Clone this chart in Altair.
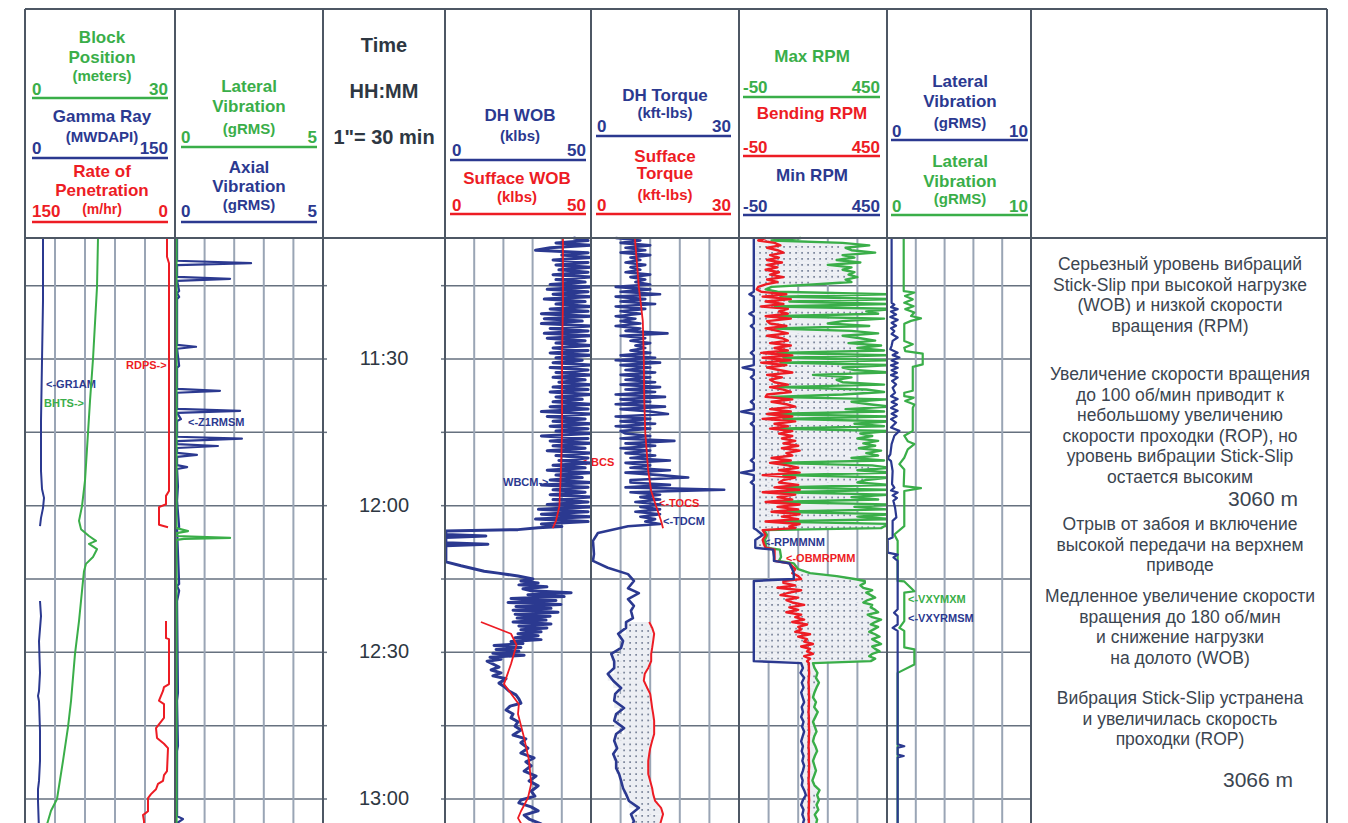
import altair as alt
import pandas as pd

# ---------------- colours / fonts ----------------
GREEN = "#3aae49"
BLUE = "#2b3990"
RED = "#ed1c24"
INK = "#2e3742"
NOTE_INK = "#3b4550"
BORDER = "#4d5764"
VGRID = "#9aa5b5"
HGRID = "#66717f"
FILL = "#eceef3"
DOT = "#6f7a91"
SANS = "'Liberation Sans', Arial, sans-serif"

# ---------------- DATA (time = minutes after 11:00) ----------------
TIME_TICKS = [30, 60, 90, 120]
TIME_LABELS = ["11:30", "12:00", "12:30", "13:00"]
GRID_TIMES = [15, 30, 45, 60, 75, 90, 105, 120]

# Track 1 : gamma ray (0-150), block position (0-30), ROP (150-0)
GR_T1 = [5.25, 18.1, 30.4, 42.7, 52.9, 56.6, 58.4, 60.5, 62.5, 64.2]
GR_V1 = [18, 18, 17, 16, 16, 17, 19, 18, 16, 15]
GR_T2 = [79.5, 82.6, 87.7, 94.2, 97.9, 98.9, 100.0, 106.1, 112.2, 116.3, 118.0, 120.4, 126.5]
GR_V2 = [15, 16, 14, 15, 14, 13, 14, 15, 15, 14, 13, 13, 14]

BP_T = [5.25, 15.3, 30.0, 38.6, 45.1, 54.9, 60.1, 63.1, 64.8, 66.2, 67.2, 67.8, 68.9, 70.5,
        71.9, 73.4, 75.4, 83.6, 90.3, 100.0, 105.3, 112.2, 120.0, 122.4, 124.5, 126.5]
BP_V = [14.6, 14.4, 13.6, 13.0, 12.6, 12.0, 11.4, 10.8, 11.2, 12.8, 14.2, 12.8, 14.4, 13.6,
        12.2, 11.8, 11.6, 10.8, 10.0, 9.2, 8.6, 7.6, 6.4, 5.2, 4.6, 4.0]

ROP_T1 = [5.25, 9.1, 10.4, 57.0, 58.0, 59.7, 60.3, 63.9, 64.4]
ROP_V1 = [8, 8, 6, 6, 9, 9, 16, 16, 7]
ROP_T2 = [83.6, 87.1, 87.3, 96.5, 97.1, 97.9, 99.9, 100.6, 103.4, 105.5, 107.5, 108.7, 109.6,
          114.3, 115.1, 116.3, 116.9, 118.0, 119.0, 119.8, 122.5, 123.3, 124.5, 126.5]
ROP_V2 = [9, 9, 6, 6, 11, 12, 16, 11, 11, 19, 18, 11, 7, 8, 11, 12, 17, 19, 24, 27, 27, 32, 31, 31]

# Track 2 : axial vibration (blue), lateral vibration (green), gRMS 0-5
AX_T = [5.25, 9.9, 10.4, 10.8, 13.2, 13.6, 14.0, 16.1, 16.5, 17.3, 17.7, 27.1, 27.5, 27.9, 31.4,
        31.8, 36.1, 36.5, 36.9, 40.2, 40.6, 41.0, 42.3, 42.7, 45.9, 46.3, 46.8, 47.4, 47.8, 48.2,
        49.2, 49.6, 50.0, 51.7, 52.1, 52.5, 56.0, 59.0, 64.4, 64.8, 76.0, 76.4, 77.4, 79.5, 98.3,
        99.9, 109.1, 110.2, 123.5, 124.1, 124.9, 126.5]
AX_V = [0.07, 0.07, 2.57, 0.07, 0.07, 1.86, 0.07, 0.14, 0.07, 0.14, 0.07, 0.07, 0.71, 0.07, 0.14,
        0.07, 0.07, 1.52, 0.07, 0.07, 2.2, 0.07, 0.2, 0.07, 0.07, 2.26, 0.07, 0.07, 1.45, 0.07,
        0.07, 0.74, 0.07, 0.07, 0.41, 0.07, 0.1, 0.07, 0.14, 0.07, 0.14, 0.07, 0.14, 0.07, 0.1,
        0.07, 0.1, 0.07, 0.07, 0.27, 0.07, 0.07]
LV2_T = [5.25, 64.6, 65.2, 65.6, 66.2, 66.6, 66.8, 67.0, 126.5]
LV2_V = [0.05, 0.05, 0.44, 0.05, 0.05, 1.86, 0.3, 0.05, 0.05]

# Track 3 : DH WOB (blue) and surface WOB (red), klbs 0-50
UP_T0, UP_STEP = 5.25, 0.5
WOB_UP = [
    44, 49, 38, 50, 36, 31, 49, 40, 50, 37,
    49, 38, 50, 39, 49, 37, 50, 38, 48, 36,
    50, 35, 49, 37, 50, 34, 48, 38, 50, 36,
    49, 33, 50, 34, 47, 33, 50, 36, 49, 34,
    50, 35, 48, 38, 50, 37, 49, 36, 50, 38,
    47, 37, 50, 36, 49, 38, 50, 37, 48, 39,
    50, 37, 49, 36, 50, 38, 47, 37, 50, 36,
    49, 33, 50, 35, 48, 37, 50, 36, 49, 38,
    50, 33, 49, 36, 50, 37, 48, 35, 50, 38,
    49, 39, 50, 37, 48, 35, 50, 38, 47, 36,
    50, 33, 49, 37, 48, 36, 50, 37, 49, 35,
    50, 32, 49, 33, 50, 31, 49, 33, 40]
WOB_TR_T = [64.5, 64.9, 65.2, 65.9, 66.2, 66.5, 67.6, 67.9, 68.2, 71.5, 72.3, 73.4, 73.8, 74.4]
WOB_TR_V = [31.9, 25.0, 0.3, 0.3, 14.0, 0.3, 0.3, 14.7, 0.3, 0.3, 5.5, 13.4, 18.2, 25.0]
LO1_T0, LO1_STEP = 75.0, 0.4
WOB_LO1 = [30.1, 26.0, 31.9, 25.3, 34.9, 26.7, 29.5, 43.2, 28.4, 40.8,
           22.6, 38.0, 21.6, 39.7, 24.3, 36.3, 23.3, 38.7, 24.0, 36.0,
           24.7, 34.6, 23.3, 36.3, 25.3, 34.9, 26.0, 32.9, 25.0, 31.9,
           24.0, 32.9, 22.6, 26.7, 16.8, 26.0, 17.5, 25.3, 16.4, 27.1,
           15.4, 19.2, 14.4]
WOB_LO2_T = [93.0, 93.6, 94.2, 94.8, 95.4, 96.3, 97.1, 97.9, 98.7, 99.5, 100.4, 101.0, 101.8,
             102.6, 103.4, 104.2, 105.1, 105.9, 106.9, 107.7, 108.5, 109.6, 110.6, 111.6, 112.4,
             113.2, 114.3, 115.3, 116.3, 117.3, 118.4, 119.4, 120.2, 120.8, 121.6, 122.4, 123.3,
             124.1, 125.1, 126.5]
WOB_LO2_V = [18.5, 15.8, 19.2, 16.4, 20.9, 18.5, 20.5, 21.9, 24.3, 25.3, 26.0, 22.3, 20.9,
             23.3, 22.6, 25.0, 24.0, 26.0, 23.3, 27.7, 26.0, 28.4, 26.0, 30.5, 27.7,
             29.5, 27.1, 31.2, 28.8, 31.9, 29.5, 30.8, 26.0, 25.3, 29.5, 31.9, 27.1,
             28.8, 32.9, 30.0]
SW_T1 = [5.25, 18.1, 30.0, 44.7, 52.9, 57.0, 60.1, 63.1, 64.6]
SW_V1 = [40.4, 40.4, 40.1, 40.1, 39.7, 39.4, 39.2, 38.0, 36.9]
SW_T2 = [83.8, 86.2, 88.5, 92.4, 96.5, 100.6, 102.6, 107.5, 112.2, 116.9, 119.8, 122.5, 123.9, 126.5]
SW_V2 = [12.3, 22.6, 24.5, 22.6, 20.2, 25.3, 25.0, 27.1, 28.8, 29.5, 28.4, 26.0, 25.0, 27.5]

# Track 4 : DH torque (blue), surface torque (red), kft-lbs 0-30
TQ_UP = [
    5, 10, 6, 12, 7, 11, 6, 12, 8, 10,
    7, 11, 8, 10, 7, 12, 8, 11, 9, 12,
    5, 12, 6, 14, 5, 11, 6, 13, 5, 11,
    6, 10, 5, 9, 6, 10, 5, 10, 7, 15.5,
    6, 11, 8, 12, 9, 11, 8, 12, 6, 13,
    5, 14, 6, 12, 7, 13, 6, 12, 7, 13,
    6, 14, 7, 13, 5, 15, 6, 12, 5, 15,
    6, 12, 15.6, 5, 12, 6, 13, 5, 12, 6,
    7, 12, 6, 16.9, 7, 13, 6, 12, 7, 13,
    8, 16, 7, 12, 8, 16, 7, 14, 19.7, 8,
    8, 16, 7, 27, 8, 14, 10, 14, 9, 14,
    10, 14, 9, 14, 10, 13, 11, 14]
TQ_TR_T = [64.2, 65.6, 67.2, 69.9, 71.3, 72.7, 74.0, 75.4, 76.9, 77.9, 79.1, 80.5, 81.5, 83.0]
TQ_TR_V = [7.5, 1.4, 0.4, 0.6, 0.4, 3.4, 7.5, 8.7, 7.5, 9.7, 7.5, 8.7, 8.1, 8.5]
TQ_LO_T = [83.8, 85.0, 86.2, 87.7, 89.1, 90.3, 91.8, 93.2, 94.4, 95.8, 97.3, 98.5, 99.9, 101.4,
           102.6, 104.0, 105.5, 106.7, 108.1, 109.6, 110.8, 112.2, 113.7, 114.9, 116.3, 117.8,
           119.0, 120.4, 121.8, 123.1, 124.5, 125.9]
TQ_LO_DH = [7.1, 7.1, 5.5, 6.5, 6.1, 4.1, 4.7, 4.7, 3.4, 4.5, 6.1, 4.9, 4.7, 6.7, 5.1, 4.7,
            6.7, 5.1, 4.7, 5.3, 4.5, 5.1, 5.1, 5.7, 6.1, 6.5, 7.1, 7.7, 9.7, 8.1, 8.7, 8.1]
TQ_LO_SURF = [11.8, 12.4, 12.8, 12.6, 12.4, 12.2, 12.2, 11.6, 10.9, 10.7, 11.4, 12.0, 12.2, 12.4,
              12.6, 12.8, 12.8, 12.8, 12.4, 12.0, 11.8, 11.6, 11.6, 11.6, 12.0, 12.4, 12.6, 13.0,
              14.2, 14.6, 14.2, 13.8]
ST_T1 = [5.25, 15.3, 22.2, 30.0, 38.6, 45.1, 52.9, 57.0, 60.1, 63.1, 64.6]
ST_V1 = [8.9, 9.7, 10.5, 10.7, 10.8, 11.0, 11.6, 12.2, 13.2, 14.2, 14.6]

# Track 5 : max / bending / min RPM (-50 .. 450)
RPM_UP_MAX = [
    160, 60, 300, 390, 310, 330, 410, 300, 340, 280,
    360, 250, 330, 300, 340, 320, 350, 310, 330, 200,
    60, 40, 80, 460, 90, 470, 120, 460, 70, 470,
    380, 420, 60, 440, 300, 250, 390, 70, 330, 420,
    300, 360, 410, 320, 430, 350, 440, 80, 460, 100,
    470, 90, 460, 300, 340, 460, 200, 330, 280, 300,
    440, 80, 380, 440, 300, 60, 450, 330, 390, 460,
    310, 440, 50, 450, 100, 460, 340, 440, 70, 460,
    360, 400, 350, 420, 370, 410, 355, 430, 380, 420,
    330, 440, 60, 400, 460, 350, 470, 100, 460, 380,
    350, 460, 80, 470, 90, 460, 330, 420, 60, 470,
    340, 450, 70, 460, 350, 470, 60, 470, 440]
RPM_UP_BEND = [
    40, 15, 70, 90, 45, 80, 100, 55, 85, 45,
    95, 45, 80, 40, 85, 55, 100, 45, 80, 40,
    15, 10, 25, 110, 30, 125, 40, 100, 25, 115,
    85, 115, 40, 125, 45, 55, 110, 40, 80, 115,
    45, 95, 115, 55, 125, 70, 115, 25, 130, 30,
    125, 25, 110, 45, 85, 130, 45, 95, 55, 70,
    115, 55, 100, 125, 45, 40, 130, 60, 110, 140,
    55, 125, 45, 130, 30, 140, 70, 115, 55, 130,
    85, 130, 95, 140, 100, 150, 95, 155, 110, 130,
    60, 125, 55, 115, 150, 85, 155, 30, 140, 100,
    85, 150, 70, 155, 30, 140, 80, 130, 40, 155,
    80, 150, 60, 155, 95, 150, 40, 155, 120]
RPM_UP_MIN = [
    0, 0, 0, 0, 0, 0, 0, 0, 0, 0,
    0, 0, 0, 0, 0, 0, 0, 0, 0, 0,
    0, 0, 0, -15, 0, 0, 0, 0, 0, 0,
    0, -15, 0, 0, 0, 0, -10, 0, 0, 0,
    0, 0, 0, 0, 0, 0, 0, -10, 0, 0,
    0, 0, 0, -38, 0, 0, 0, -10, 0, 0,
    0, 0, 0, 0, 0, 0, 0, -10, 0, 0,
    0, -43, 0, 0, 0, 0, -10, 0, 0, 0,
    0, 0, 0, 0, 0, 0, 0, 0, 0, 0,
    0, -10, 0, 0, 0, 0, -43, 0, 0, 0,
    -10, 0, 0, 0, 0, 0, 0, 0, 0, 0,
    0, 0, 0, 0, 0, 0, 0, 0, 0]
RPM_MID_T = [64.6, 65.0, 66.0, 67.0, 68.0, 68.6, 69.0, 70.5, 71.3, 71.8, 73.0, 73.8, 74.4, 75.0, 75.4]
RPM_MID_MAX = [430, 35, 45, 38, 40, 42, 88, 92, 85, 135, 150, 190, 280, 340, 375]
RPM_MID_BEND = [140, 30, 40, 30, 35, 40, 70, 70, 70, 120, 140, 130, 150, 160, 100]
RPM_MID_MIN = [0, 10, 30, 5, 5, 5, 65, 68, 68, 120, 130, 135, 135, 135, 0]
SS_T0, SS_STEP = 75.8, 0.5
RPM_SS_MAX = [375, 360, 370, 400, 380, 395, 410, 385, 370, 400, 395, 410, 420, 385, 400, 430, 410,
              395, 420, 405, 390, 410, 425, 400, 415, 430, 400, 410, 425, 400, 390, 410, 395]
RPM_SS_BEND = [100, 140, 80, 160, 120, 90, 150, 110, 130, 170, 120, 150, 110, 160, 140, 170, 130,
               180, 150, 160, 140, 190, 150, 180, 170, 200, 160, 190, 180, 200, 170, 190, 180]
RPM_SS_MIN = [0, 0, 0, 0, 0, 0, 0, 0, 0, 0, 0, 0, 0, 0, 0, 0, 0,
              0, 0, 0, 0, 0, 0, 0, 0, 0, 0, 0, 0, 0, 0, 0, 0]
CV_T0, CV_STEP = 92.2, 1.0
RPM_CV_MAX = [200, 205, 215, 210, 220, 212, 205, 200, 210, 204, 216, 208, 200, 206, 212, 204, 200, 208,
              214, 206, 200, 205, 210, 204, 198, 205, 222, 214, 220, 212, 218, 206, 214, 210, 205]
RPM_CV_BEND = [186, 186, 187, 186, 185, 186, 186, 187, 186, 186, 185, 186, 186, 186, 187, 186, 186,
               185, 186, 186, 186, 187, 186, 186, 185, 186, 186, 186, 187, 186, 186, 185, 186, 186, 186]
RPM_CV_MIN = [160, 166, 158, 170, 162, 168, 160, 165, 170, 162, 166, 160, 168, 163, 170, 165, 160, 166,
              162, 168, 164, 170, 166, 160, 165, 162, 170, 176, 166, 160, 168, 164, 170, 165, 168]

# Track 6 : lateral vibration RMS (blue) and max (green), gRMS 0-10
LB_T = [5.25, 18.5, 18.9, 19.4, 19.8, 20.3, 20.9, 21.4, 22.0, 22.6, 23.2, 23.7, 24.3, 24.9, 25.6,
        26.3, 27.3, 28.0, 28.7, 29.2, 29.7, 30.3, 30.8, 31.3, 31.8, 32.3, 32.8, 33.3, 33.8, 34.5,
        35.2, 35.9, 36.9, 37.6, 38.2, 38.8, 39.3, 40.0, 40.6, 41.2, 41.7, 42.3, 43.0, 44.0, 44.7,
        45.7, 47.4, 49.5, 50.3, 50.9, 52.9, 55.6, 56.3, 56.9, 57.3, 57.9, 58.4, 59.0, 60.4, 62.4,
        63.1, 66.5, 66.9, 69.6, 70.0, 70.6, 71.3, 72.0, 81.2, 81.9, 82.6, 84.3, 85.0, 85.6, 108.8,
        109.2, 109.5, 110.9, 111.2, 111.5, 126.5]
LB_V = [0.32, 0.32, 0.51, 0.28, 0.74, 0.28, 0.63, 0.23, 0.74, 0.32, 0.63, 0.28, 0.51, 0.32, 0.74,
        0.39, 0.32, 0.23, 0.74, 0.39, 0.86, 0.32, 0.74, 0.28, 0.74, 0.32, 0.69, 0.28, 0.74, 0.35,
        0.63, 0.39, 0.56, 0.28, 0.74, 0.32, 0.69, 0.28, 0.74, 0.32, 0.67, 0.28, 0.63, 0.28, 0.86,
        0.51, 0.32, 0.23, 0.05, 0.28, 0.39, 0.35, 0.51, 0.28, 0.74, 0.39, 0.69, 0.44, 0.56, 0.65,
        0.39, 0.39, 0.05, 0.05, 0.74, 0.45, 0.74, 0.74, 0.74, 0.49, 0.74, 0.74, 0.39, 0.74, 0.74,
        1.2, 0.74, 0.74, 1.16, 0.74, 0.74]
LG_T = [5.25, 16.1, 16.4, 17.1, 17.8, 18.5, 19.2, 19.8, 20.5, 21.2, 21.7, 22.2, 22.8, 26.3, 27.0,
        27.7, 28.4, 28.9, 31.1, 31.6, 36.5, 36.9, 37.6, 37.9, 38.6, 39.3, 40.0, 44.7, 45.7, 46.8,
        47.4, 48.5, 50.2, 51.5, 52.6, 56.0, 56.4, 57.0, 63.1, 64.2, 65.9, 67.2, 75.4, 75.5, 77.5,
        77.8, 83.6, 85.0, 85.6, 89.0, 89.4, 92.5, 94.2, 126.5]
LG_V = [1.16, 1.16, 1.9, 1.25, 1.79, 1.2, 1.85, 1.27, 1.9, 1.67, 2.36, 1.67, 1.2, 1.2, 1.79,
        1.2, 1.27, 2.48, 2.48, 1.79, 1.79, 1.2, 1.2, 1.85, 1.27, 1.9, 1.79, 1.79, 1.2, 1.44,
        1.9, 1.44, 1.2, 0.86, 1.2, 1.16, 2.36, 1.2, 1.2, 1.2, 0.51, 0.74, 0.74, 1.2, 1.9,
        1.2, 1.2, 0.86, 1.2, 1.2, 1.9, 1.9, 0.74, 0.74]

# curve tags (text, time, colour)
TAGS = {
    0: [("<-GR1AM", 35.3, BLUE), ("BHTS->", 39.2, GREEN), ("RDPS->", 31.4, RED)],
    1: [("<-Z1RMSM", 43.1, BLUE)],
    3: [("WBCM->", 55.4, BLUE), ("<-BCS", 51.3, RED)],
    4: [("<-TOCS", 59.6, RED), ("<-TDCM", 63.3, BLUE)],
    5: [("<-RPMMNM", 67.6, BLUE), ("<-OBMRPMM", 70.9, RED)],
    6: [("<-VXYMXM", 79.3, GREEN), ("<-VXYRMSM", 83.2, BLUE)],
}

NOTES = [
    ["Серьезный уровень вибраций", "Stick-Slip при высокой нагрузке", "(WOB) и низкой скорости",
     "вращения (RPM)"],
    ["Увеличение скорости вращения", "до 100 об/мин приводит к", "небольшому увеличению",
     "скорости проходки (ROP), но", "уровень вибрации Stick-Slip", "остается высоким"],
    ["Отрыв от забоя и включение", "высокой передачи на верхнем", "приводе"],
    ["Медленное увеличение скорости", "вращения до 180 об/мин", "и снижение нагрузки",
     "на долото (WOB)"],
    ["Вибрация Stick-Slip устранена", "и увеличилась скорость", "проходки (ROP)"],
]
DEPTHS = ["3060 m", "3066 m"]

# ---------------- LAYOUT ----------------
T_TOP, T_BOT = 5.25, 125.93
HEAD_H, BODY_H = 229, 590
TOTAL_H = HEAD_H + BODY_H
PANEL_X = [24, 174, 322, 444, 590, 738, 886, 1030, 1326]
WIDTHS = [PANEL_X[i + 1] - PANEL_X[i] for i in range(8)]
TAG_X = {0: [21, 19, 101], 1: [13], 3: [58, 136], 4: [68, 72], 5: [25, 47], 6: [21, 21]}
NOTE_Y0 = [264, 374, 524, 596, 698]       # page y of first line of each note
NOTE_DY = 20.5
NOTE_X = 149
DEPTH_POS = [(267, 499, "right"), (227, 780, "center")]
TITLE, UNIT, NUM, TAGSIZE = 17, 15, 17, 11
DOT_DT = 1.22          # dot pattern pitch (minutes)

YS = alt.Scale(domain=[T_TOP, T_BOT], range=[HEAD_H, TOTAL_H], nice=False, zero=False)
PY = alt.Scale(domain=[0, TOTAL_H], range=[0, TOTAL_H], nice=False, zero=False)
ONE = pd.DataFrame({"k": [0]})


def regular(t0, step, vals):
    return [round(t0 + step * i, 3) for i in range(len(vals))]


def line(t, v, color, domain, sw=2.0, reverse=False):
    n = min(len(t), len(v))
    df = pd.DataFrame({"t": list(t)[:n], "v": list(v)[:n]})
    return alt.Chart(df).mark_line(color=color, strokeWidth=sw, clip=True, strokeJoin="round").encode(
        x=alt.X("v:Q", scale=alt.Scale(domain=domain, reverse=reverse, nice=False, zero=False), axis=None),
        y=alt.Y("t:Q", scale=YS, axis=None),
        order=alt.Order("t:Q"),
    )


def dotted_band(t, lo, hi, domain, dv):
    """Shaded, dotted fill between two curves sampled at the same times."""
    n = min(len(t), len(lo), len(hi))
    t, lo, hi = list(t)[:n], list(lo)[:n], list(hi)[:n]
    rects = [{"t": t[i], "t2": t[i + 1], "lo": lo[i], "hi": (hi[i] + hi[i + 1]) / 2.0}
             for i in range(n - 1)]
    pts = []
    td = t[0] + DOT_DT / 2
    i = 0
    while td < t[-1]:
        while i < n - 2 and t[i + 1] <= td:
            i += 1
        a = max(lo[i], lo[i + 1])
        b = min(hi[i], hi[i + 1])
        v = domain[0] + dv / 2
        while v < domain[1]:
            if a + dv * 0.3 < v < b - dv * 0.3:
                pts.append({"t": td, "v": v})
            v += dv
        td += DOT_DT
    xs = alt.Scale(domain=domain, nice=False, zero=False)
    rect = alt.Chart(pd.DataFrame(rects)).mark_rect(color=FILL, clip=True).encode(
        x=alt.X("lo:Q", scale=xs, axis=None), x2="hi:Q",
        y=alt.Y("t:Q", scale=YS, axis=None), y2="t2:Q")
    layers = [rect]
    if pts:
        layers.append(alt.Chart(pd.DataFrame(pts)).mark_square(size=3, color=DOT, opacity=0.9, clip=True).encode(
            x=alt.X("v:Q", scale=xs, axis=None), y=alt.Y("t:Q", scale=YS, axis=None)))
    return layers


def vgrid():
    return alt.Chart(pd.DataFrame({"f": [0.2, 0.4, 0.6, 0.8]})).mark_rule(color=VGRID, strokeWidth=2).encode(
        x=alt.X("f:Q", scale=alt.Scale(domain=[0, 1], nice=False, zero=False), axis=None),
        y=alt.value(HEAD_H), y2=alt.value(TOTAL_H))


def hgrid():
    return alt.Chart(pd.DataFrame({"t": GRID_TIMES})).mark_rule(color=HGRID, strokeWidth=1.5).encode(
        y=alt.Y("t:Q", scale=YS, axis=None))


def frame(w):
    out = []
    for xx in (0, w):
        out.append(alt.Chart(ONE).mark_rule(color=BORDER, strokeWidth=2).encode(
            x=alt.value(xx), y=alt.value(0), y2=alt.value(TOTAL_H)))
    for yy in (0, HEAD_H):
        out.append(alt.Chart(ONE).mark_rule(color=BORDER, strokeWidth=2).encode(
            x=alt.value(0), x2=alt.value(w), y=alt.value(yy)))
    return out


def tags(idx):
    out = []
    for (txt, t, col), xx in zip(TAGS.get(idx, []), TAG_X.get(idx, [])):
        out.append(alt.Chart(pd.DataFrame({"t": [t], "s": [txt]})).mark_text(
            align="left", baseline="middle", font=SANS, fontWeight="bold", fontSize=TAGSIZE, color=col).encode(
            x=alt.value(xx), y=alt.Y("t:Q", scale=YS, axis=None), text="s:N"))
    return out


# ---------------- headers ----------------
HEAD = {
    0: ([("center", "Block", GREEN, 101, 42, TITLE), ("center", "Position", GREEN, 101, 62, TITLE),
         ("center", "(meters)", GREEN, 101, 80, UNIT), ("left", "0", GREEN, 31, 94, NUM),
         ("right", "30", GREEN, 167, 94, NUM),
         ("center", "Gamma Ray", BLUE, 101, 121, TITLE), ("center", "(MWDAPI)", BLUE, 101, 141, UNIT),
         ("left", "0", BLUE, 31, 153, NUM), ("right", "150", BLUE, 167, 153, NUM),
         ("center", "Rate of", RED, 101, 176, TITLE), ("center", "Penetration", RED, 101, 195, TITLE),
         ("center", "(m/hr)", RED, 101, 213, UNIT - 1), ("left", "150", RED, 31, 216, NUM),
         ("right", "0", RED, 167, 216, NUM)],
        [(GREEN, 31, 167, 97), (BLUE, 31, 167, 157), (RED, 31, 167, 221)]),
    1: ([("center", "Lateral", GREEN, 248, 91, TITLE), ("center", "Vibration", GREEN, 248, 111, TITLE),
         ("center", "(gRMS)", GREEN, 248, 133, UNIT), ("left", "0", GREEN, 180, 142, NUM),
         ("right", "5", GREEN, 316, 142, NUM),
         ("center", "Axial", BLUE, 248, 172, TITLE), ("center", "Vibration", BLUE, 248, 191, TITLE),
         ("center", "(gRMS)", BLUE, 248, 209, UNIT), ("left", "0", BLUE, 180, 216, NUM),
         ("right", "5", BLUE, 316, 216, NUM)],
        [(GREEN, 180, 316, 146), (BLUE, 180, 316, 221)]),
    3: ([("center", "DH WOB", BLUE, 519, 120, TITLE), ("center", "(klbs)", BLUE, 519, 140, UNIT),
         ("left", "0", BLUE, 451, 155, NUM), ("right", "50", BLUE, 585, 155, NUM),
         ("center", "Sufface WOB", RED, 516, 183, TITLE), ("center", "(klbs)", RED, 516, 201, UNIT),
         ("left", "0", RED, 451, 210, NUM), ("right", "50", RED, 585, 210, NUM)],
        [(BLUE, 449, 585, 159), (RED, 449, 585, 213)]),
    4: ([("center", "DH Torque", BLUE, 664, 100, TITLE), ("center", "(kft-lbs)", BLUE, 664, 117, UNIT),
         ("left", "0", BLUE, 596, 131, NUM), ("right", "30", BLUE, 730, 131, NUM),
         ("center", "Sufface", RED, 664, 161, TITLE), ("center", "Torque", RED, 664, 178, TITLE),
         ("center", "(kft-lbs)", RED, 664, 199, UNIT), ("left", "0", RED, 596, 210, NUM),
         ("right", "30", RED, 730, 210, NUM)],
        [(BLUE, 595, 730, 135), (RED, 595, 730, 213)]),
    5: ([("center", "Max RPM", GREEN, 811, 61, TITLE), ("left", "-50", GREEN, 742, 92, NUM),
         ("right", "450", GREEN, 879, 92, NUM),
         ("center", "Bending RPM", RED, 811, 118, TITLE), ("left", "-50", RED, 742, 152, NUM),
         ("right", "450", RED, 879, 152, NUM),
         ("center", "Min RPM", BLUE, 811, 180, TITLE), ("left", "-50", BLUE, 742, 211, NUM),
         ("right", "450", BLUE, 879, 211, NUM)],
        [(GREEN, 742, 879, 96), (RED, 742, 879, 155), (BLUE, 742, 879, 214)]),
    6: ([("center", "Lateral", BLUE, 959, 86, TITLE), ("center", "Vibration", BLUE, 959, 106, TITLE),
         ("center", "(gRMS)", BLUE, 959, 127, UNIT), ("left", "0", BLUE, 891, 136, NUM),
         ("right", "10", BLUE, 1027, 136, NUM),
         ("center", "Lateral", GREEN, 959, 166, TITLE), ("center", "Vibration", GREEN, 959, 186, TITLE),
         ("center", "(gRMS)", GREEN, 959, 203, UNIT), ("left", "0", GREEN, 891, 211, NUM),
         ("right", "10", GREEN, 1027, 211, NUM)],
        [(GREEN, 890, 1027, 214), (BLUE, 890, 1027, 139)]),
}
TIME_HEAD = [("Time", 51), ("HH:MM", 97), ('1"= 30 min', 143)]


def header(idx):
    x0, w = PANEL_X[idx], WIDTHS[idx]
    xs = alt.Scale(domain=[0, w], range=[0, w], nice=False, zero=False)
    layers = []
    if idx == 2:
        df = pd.DataFrame({"s": [a for a, _ in TIME_HEAD], "y": [b - 8 for _, b in TIME_HEAD]})
        layers.append(alt.Chart(df).mark_text(align="center", baseline="alphabetic", font=SANS,
                                              fontWeight="bold", fontSize=20, color=INK).encode(
            x=alt.value(383 - x0), y=alt.Y("y:Q", scale=PY, axis=None), text="s:N"))
    if idx in HEAD:
        items, rules = HEAD[idx]
        for align in ("center", "left", "right"):
            rows = [r for r in items if r[0] == align]
            if not rows:
                continue
            df = pd.DataFrame({"s": [r[1] for r in rows], "c": [r[2] for r in rows],
                               "x": [r[3] - x0 for r in rows], "y": [r[4] - 8 for r in rows],
                               "z": [r[5] for r in rows]})
            layers.append(alt.Chart(df).mark_text(align=align, baseline="alphabetic", font=SANS,
                                                  fontWeight="bold").encode(
                x=alt.X("x:Q", scale=xs, axis=None), y=alt.Y("y:Q", scale=PY, axis=None),
                text="s:N", color=alt.Color("c:N", scale=None), size=alt.Size("z:Q", scale=None)))
        df = pd.DataFrame({"x": [r[1] - x0 for r in rules], "x2": [r[2] - x0 for r in rules],
                           "y": [r[3] - 8 for r in rules], "c": [r[0] for r in rules]})
        layers.append(alt.Chart(df).mark_rule(strokeWidth=2.5).encode(
            x=alt.X("x:Q", scale=xs, axis=None), x2="x2:Q", y=alt.Y("y:Q", scale=PY, axis=None),
            color=alt.Color("c:N", scale=None)))
    return layers


def column(idx, body_layers):
    w = WIDTHS[idx]
    return alt.layer(*header(idx), *body_layers, *frame(w)).resolve_scale(
        x="independent", y="independent").properties(width=w, height=TOTAL_H)


# ---------------- body panels ----------------
D_GR, D_BP, D_ROP = [0, 150], [0, 30], [0, 150]
c1 = column(0, [hgrid(), vgrid(), *tags(0),
                line(GR_T1, GR_V1, BLUE, D_GR), line(GR_T2, GR_V2, BLUE, D_GR),
                line(BP_T, BP_V, GREEN, D_BP),
                line(ROP_T1, ROP_V1, RED, D_ROP, reverse=True),
                line(ROP_T2, ROP_V2, RED, D_ROP, reverse=True)])

c2 = column(1, [hgrid(), vgrid(), *tags(1),
                line(AX_T, AX_V, BLUE, [0, 5], sw=2.2), line(LV2_T, LV2_V, GREEN, [0, 5], sw=2.2)])

tick_df = pd.DataFrame({"t": GRID_TIMES})
lab_df = pd.DataFrame({"t": TIME_TICKS, "s": TIME_LABELS})
wt = WIDTHS[2]
c3 = column(2, [
    alt.Chart(tick_df).mark_rule(color=HGRID, strokeWidth=1.5).encode(
        y=alt.Y("t:Q", scale=YS, axis=None), x=alt.value(0), x2=alt.value(4)),
    alt.Chart(tick_df).mark_rule(color=HGRID, strokeWidth=1.5).encode(
        y=alt.Y("t:Q", scale=YS, axis=None), x=alt.value(wt - 4), x2=alt.value(wt)),
    alt.Chart(lab_df).mark_text(font=SANS, fontSize=20, color=INK, align="center", baseline="middle").encode(
        y=alt.Y("t:Q", scale=YS, axis=None), x=alt.value(383 - PANEL_X[2]), text="s:N"),
])

wob_t = regular(UP_T0, UP_STEP, WOB_UP) + WOB_TR_T + regular(LO1_T0, LO1_STEP, WOB_LO1) + WOB_LO2_T
wob_v = WOB_UP + WOB_TR_V + WOB_LO1 + WOB_LO2_V
c4 = column(3, [hgrid(), vgrid(), *tags(3),
                line(wob_t, wob_v, BLUE, [0, 50], sw=3.0),
                line(SW_T1, SW_V1, RED, [0, 50], sw=1.8), line(SW_T2, SW_V2, RED, [0, 50], sw=1.8)])

tq_t = regular(UP_T0, UP_STEP, TQ_UP) + TQ_TR_T + TQ_LO_T
tq_v = TQ_UP + TQ_TR_V + TQ_LO_DH
c5 = column(4, [hgrid(), vgrid(), *dotted_band(TQ_LO_T, TQ_LO_DH, TQ_LO_SURF, [0, 30], 1.22), *tags(4),
                line(tq_t, tq_v, BLUE, [0, 30], sw=2.6),
                line(ST_T1, ST_V1, RED, [0, 30], sw=1.8),
                line(TQ_LO_T, TQ_LO_SURF, RED, [0, 30], sw=2.0)])

rpm_t = regular(UP_T0, UP_STEP, RPM_UP_MAX) + RPM_MID_T + regular(SS_T0, SS_STEP, RPM_SS_MAX) + \
    regular(CV_T0, CV_STEP, RPM_CV_MAX)
rpm_max = RPM_UP_MAX + RPM_MID_MAX + RPM_SS_MAX + RPM_CV_MAX
rpm_bend = RPM_UP_BEND + RPM_MID_BEND + RPM_SS_BEND + RPM_CV_BEND
rpm_min = RPM_UP_MIN + RPM_MID_MIN + RPM_SS_MIN + RPM_CV_MIN
D_RPM = [-50, 450]
c6 = column(5, [hgrid(), vgrid(), *dotted_band(rpm_t, rpm_min, rpm_max, D_RPM, 20.3), *tags(5),
                line(rpm_t, rpm_max, GREEN, D_RPM, sw=2.4),
                line(rpm_t, rpm_bend, RED, D_RPM, sw=2.4),
                line(rpm_t, rpm_min, BLUE, D_RPM, sw=2.4)])

c7 = column(6, [hgrid(), vgrid(), *tags(6),
                line(LG_T, LG_V, GREEN, [0, 10], sw=2.2), line(LB_T, LB_V, BLUE, [0, 10], sw=2.2)])

# notes column
note_rows = []
for y0, para in zip(NOTE_Y0, NOTES):
    for k, ln in enumerate(para):
        note_rows.append({"s": ln, "y": y0 + k * NOTE_DY - 8})
note_layers = [alt.Chart(pd.DataFrame(note_rows)).mark_text(
    font=SANS, fontSize=17.5, color=NOTE_INK, align="center", baseline="middle").encode(
    x=alt.value(NOTE_X), y=alt.Y("y:Q", scale=PY, axis=None), text="s:N")]
for txt, (dx, dy, al) in zip(DEPTHS, DEPTH_POS):
    note_layers.append(alt.Chart(pd.DataFrame({"s": [txt], "y": [dy - 8]})).mark_text(
        font=SANS, fontSize=21, color=NOTE_INK, align=al, baseline="middle").encode(
        x=alt.value(dx), y=alt.Y("y:Q", scale=PY, axis=None), text="s:N"))
c8 = column(7, note_layers)

chart = alt.hconcat(c1, c2, c3, c4, c5, c6, c7, c8, spacing=0, bounds="flush").properties(
    padding={"left": 16, "top": 0, "right": 2, "bottom": 0},
    background="white",
).configure_view(stroke=None)

chart.save("out.html", embed_options={"renderer": "svg", "actions": False})
